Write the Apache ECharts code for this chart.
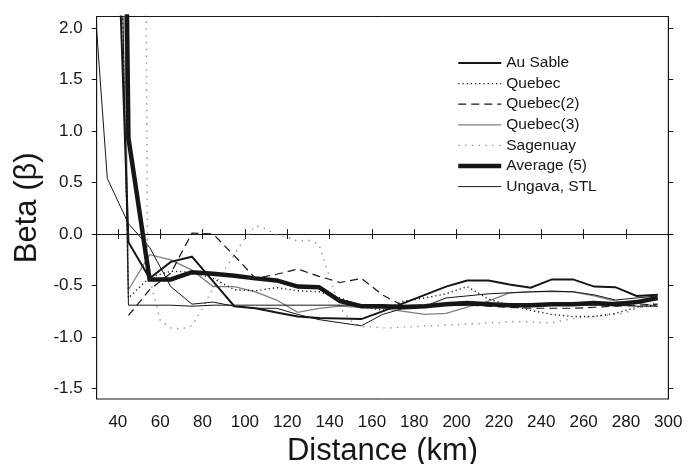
<!DOCTYPE html>
<html>
<head>
<meta charset="utf-8">
<script src="https://cdn.jsdelivr.net/npm/echarts@6/dist/echarts.min.js"></script>
<style>html,body{margin:0;padding:0;background:#fff}#c{width:699px;height:464px}</style>
</head>
<body>
<div id="c"></div>
<script>
// ---- data ----
const xTicks = [40,60,80,100,120,140,160,180,200,220,240,260,280,300];
const yTicks = [-1.5,-1.0,-0.5,0.0,0.5,1.0,1.5,2.0];

const distances = [35,45,55,65,75,85,95,105,115,125,135,145,155,165,175,185,195,205,215,225,235,245,255,265,275,285,295];

const auSable   = [6, -0.08, -0.43, -0.27, -0.22, -0.46, -0.70, -0.72, -0.76, -0.80, -0.815, -0.82, -0.825, -0.75, -0.67, -0.59, -0.51, -0.45, -0.45, -0.49, -0.52, -0.44, -0.44, -0.51, -0.515, -0.60, -0.59];
const quebec    = [9.5, -0.62, -0.42, -0.36, -0.37, -0.43, -0.54, -0.55, -0.52, -0.55, -0.56, -0.62, -0.70, -0.74, -0.65, -0.62, -0.58, -0.51, -0.63, -0.69, -0.74, -0.78, -0.80, -0.80, -0.77, -0.71, -0.69];
const quebec2   = [null, -0.79, -0.54, -0.38, 0.01, 0.0, -0.21, -0.43, -0.39, -0.34, -0.41, -0.47, -0.43, -0.59, -0.70, -0.70, -0.69, -0.69, -0.70, -0.71, -0.72, -0.72, -0.72, -0.71, -0.70, -0.69, -0.68];
const quebec3   = [15, -0.54, -0.20, -0.25, -0.35, -0.51, -0.51, -0.56, -0.64, -0.76, -0.72, -0.70, -0.71, -0.72, -0.75, -0.78, -0.77, -0.71, -0.65, -0.57, -0.56, -0.555, -0.56, -0.60, -0.65, -0.67, -0.70];
const average5  = [18, 0.93, -0.44, -0.44, -0.37, -0.385, -0.405, -0.43, -0.45, -0.51, -0.515, -0.65, -0.70, -0.70, -0.71, -0.70, -0.68, -0.67, -0.68, -0.69, -0.69, -0.68, -0.68, -0.67, -0.68, -0.66, -0.62];

const sagDist = [49,54,60,65,70,75,80,85,90,95,100,105,110,115,120,125,130,135,140,145,150,155,160,165,170,175,180,185,190,195,200,205,210,215,220,225,230,235,240,245,250,255,260,265,270,275,280,285,290,295];
const sagenuay = [20, -0.35, -0.84, -0.91, -0.92, -0.89, -0.72, -0.52, -0.36, -0.20, -0.04, 0.08, 0.05, -0.01, -0.03, -0.07, -0.06, -0.10, -0.42, -0.72, -0.84, -0.90, -0.90, -0.91, -0.91, -0.90, -0.90, -0.89, -0.89, -0.88, -0.88, -0.87, -0.87, -0.86, -0.86, -0.85, -0.85, -0.85, -0.86, -0.86, -0.84, -0.82, -0.81, -0.80, -0.79, -0.78, -0.76, -0.72, -0.69, -0.66];

const ungavaDist = [25,35,45,55,65,75,85,95,105,115,125,135,145,155,165,175,185,195,205,215,225,235,245,255,265,275,285,295];
const ungava = [3.4, 0.54, 0.10, -0.13, -0.51, -0.68, -0.66, -0.70, -0.72, -0.72, -0.78, -0.83, -0.86, -0.89, -0.78, -0.72, -0.70, -0.62, -0.60, -0.58, -0.57, -0.56, -0.555, -0.56, -0.59, -0.64, -0.62, -0.60];
const stl = [10, -0.69, -0.69, -0.69, -0.70, -0.69, -0.69, -0.69, -0.69, -0.69, -0.69, -0.69, -0.69, -0.69, -0.69, -0.69, -0.69, -0.69, -0.69, -0.69, -0.69, -0.69, -0.69, -0.69, -0.69, -0.70, -0.70];

const legendNames = ['Au Sable', 'Quebec', 'Quebec(2)', 'Quebec(3)', 'Sagenuay', 'Average (5)', 'Ungava, STL'];

// ---- chart ----
const FONT = '"Liberation Sans", Arial, Helvetica, sans-serif';
const INK = '#161616';
const pairs = (xs, ys) => xs.map((x, i) => [x, ys[i]]);

const styles = {
  'Au Sable':    { color: INK, width: 2, type: 'solid', z: 4 },
  'Quebec':      { color: INK, width: 1.4, type: [1.2, 3], z: 3 },
  'Quebec(2)':   { color: INK, width: 1.2, type: [8, 5], z: 3 },
  'Quebec(3)':   { color: '#7f7f7f', width: 1.3, type: 'solid', z: 2 },
  'Sagenuay':    { color: '#8a8a8a', width: 1.4, type: [1.3, 5.5], z: 2 },
  'Average (5)': { color: INK, width: 4.5, type: 'solid', z: 5 },
  'Ungava, STL': { color: INK, width: 1, type: 'solid', z: 3 }
};

function line(name, xs, ys) {
  const s = styles[name];
  return {
    type: 'line', name: name, data: pairs(xs, ys), symbol: 'none', clip: true,
    connectNulls: false, z: s.z,
    lineStyle: { color: s.color, width: s.width, type: s.type, cap: 'butt', join: 'miter' },
    itemStyle: { color: s.color }, emphasis: { disabled: true }, animation: false
  };
}

const chart = echarts.init(document.getElementById('c'), null, { renderer: 'canvas' });
chart.setOption({
  animation: false,
  backgroundColor: '#fff',
  textStyle: { fontFamily: FONT },
  grid: { left: 96.7, right: 30.7, top: 16.5, bottom: 65, show: true, borderColor: INK, borderWidth: 1,
    containLabel: false, outerBoundsMode: 'none' },
  legend: {
    orient: 'vertical', left: 451, top: 50,
    itemWidth: 43, itemHeight: 14, itemGap: 4.6,
    itemStyle: { opacity: 0, borderWidth: 0 },
    textStyle: { fontFamily: FONT, fontSize: 15.5, color: INK, lineHeight: 16 },
    data: legendNames.map(n => ({ name: n, lineStyle: { width: styles[n].width, type: styles[n].type, color: styles[n].color } })),
    selectedMode: false
  },
  xAxis: [{
    type: 'value', min: 30, max: 300, position: 'bottom',
    axisLine: { show: true, lineStyle: { color: INK, width: 1 } },
    axisTick: { show: true, inside: false, length: 5, customValues: xTicks, lineStyle: { color: INK } },
    axisLabel: { customValues: xTicks, fontSize: 17, color: INK, margin: 15, fontFamily: FONT },
    splitLine: { show: false },
    name: 'Distance (km)', nameLocation: 'middle', nameGap: 37,
    nameTextStyle: { fontSize: 31, color: INK, fontFamily: FONT }
  }, {
    type: 'value', min: 30, max: 300, position: 'top',
    axisLine: { show: true, lineStyle: { color: INK, width: 1 } },
    axisTick: { show: true, inside: false, length: 5, customValues: xTicks, lineStyle: { color: INK } },
    axisLabel: { show: false }, splitLine: { show: false }
  }],
  yAxis: [{
    type: 'value', min: -1.6, max: 2.11, position: 'left',
    axisLine: { show: true, lineStyle: { color: INK, width: 1 } },
    axisTick: { show: true, inside: false, length: 5, customValues: yTicks, lineStyle: { color: INK } },
    axisLabel: { customValues: yTicks, fontSize: 17, color: INK, margin: 14, fontFamily: FONT,
      formatter: v => v.toFixed(1) },
    splitLine: { show: false },
    name: 'Beta (\u03B2)', nameLocation: 'middle', nameGap: 44, nameRotate: 90,
    nameTextStyle: { fontSize: 31, color: INK, fontFamily: FONT }
  }, {
    type: 'value', min: -1.6, max: 2.11, position: 'right',
    axisLine: { show: true, lineStyle: { color: INK, width: 1 } },
    axisTick: { show: true, inside: false, length: 5, customValues: yTicks, lineStyle: { color: INK } },
    axisLabel: { show: false }, splitLine: { show: false }
  }],
  series: [
    line('Au Sable', distances, auSable),
    line('Quebec', distances, quebec),
    line('Quebec(2)', distances, quebec2),
    line('Quebec(3)', distances, quebec3),
    line('Sagenuay', sagDist, sagenuay),
    line('Average (5)', distances, average5),
    line('Ungava, STL', ungavaDist, ungava),
    line('Ungava, STL', distances, stl)
  ]
});
</script>
</body>
</html>
